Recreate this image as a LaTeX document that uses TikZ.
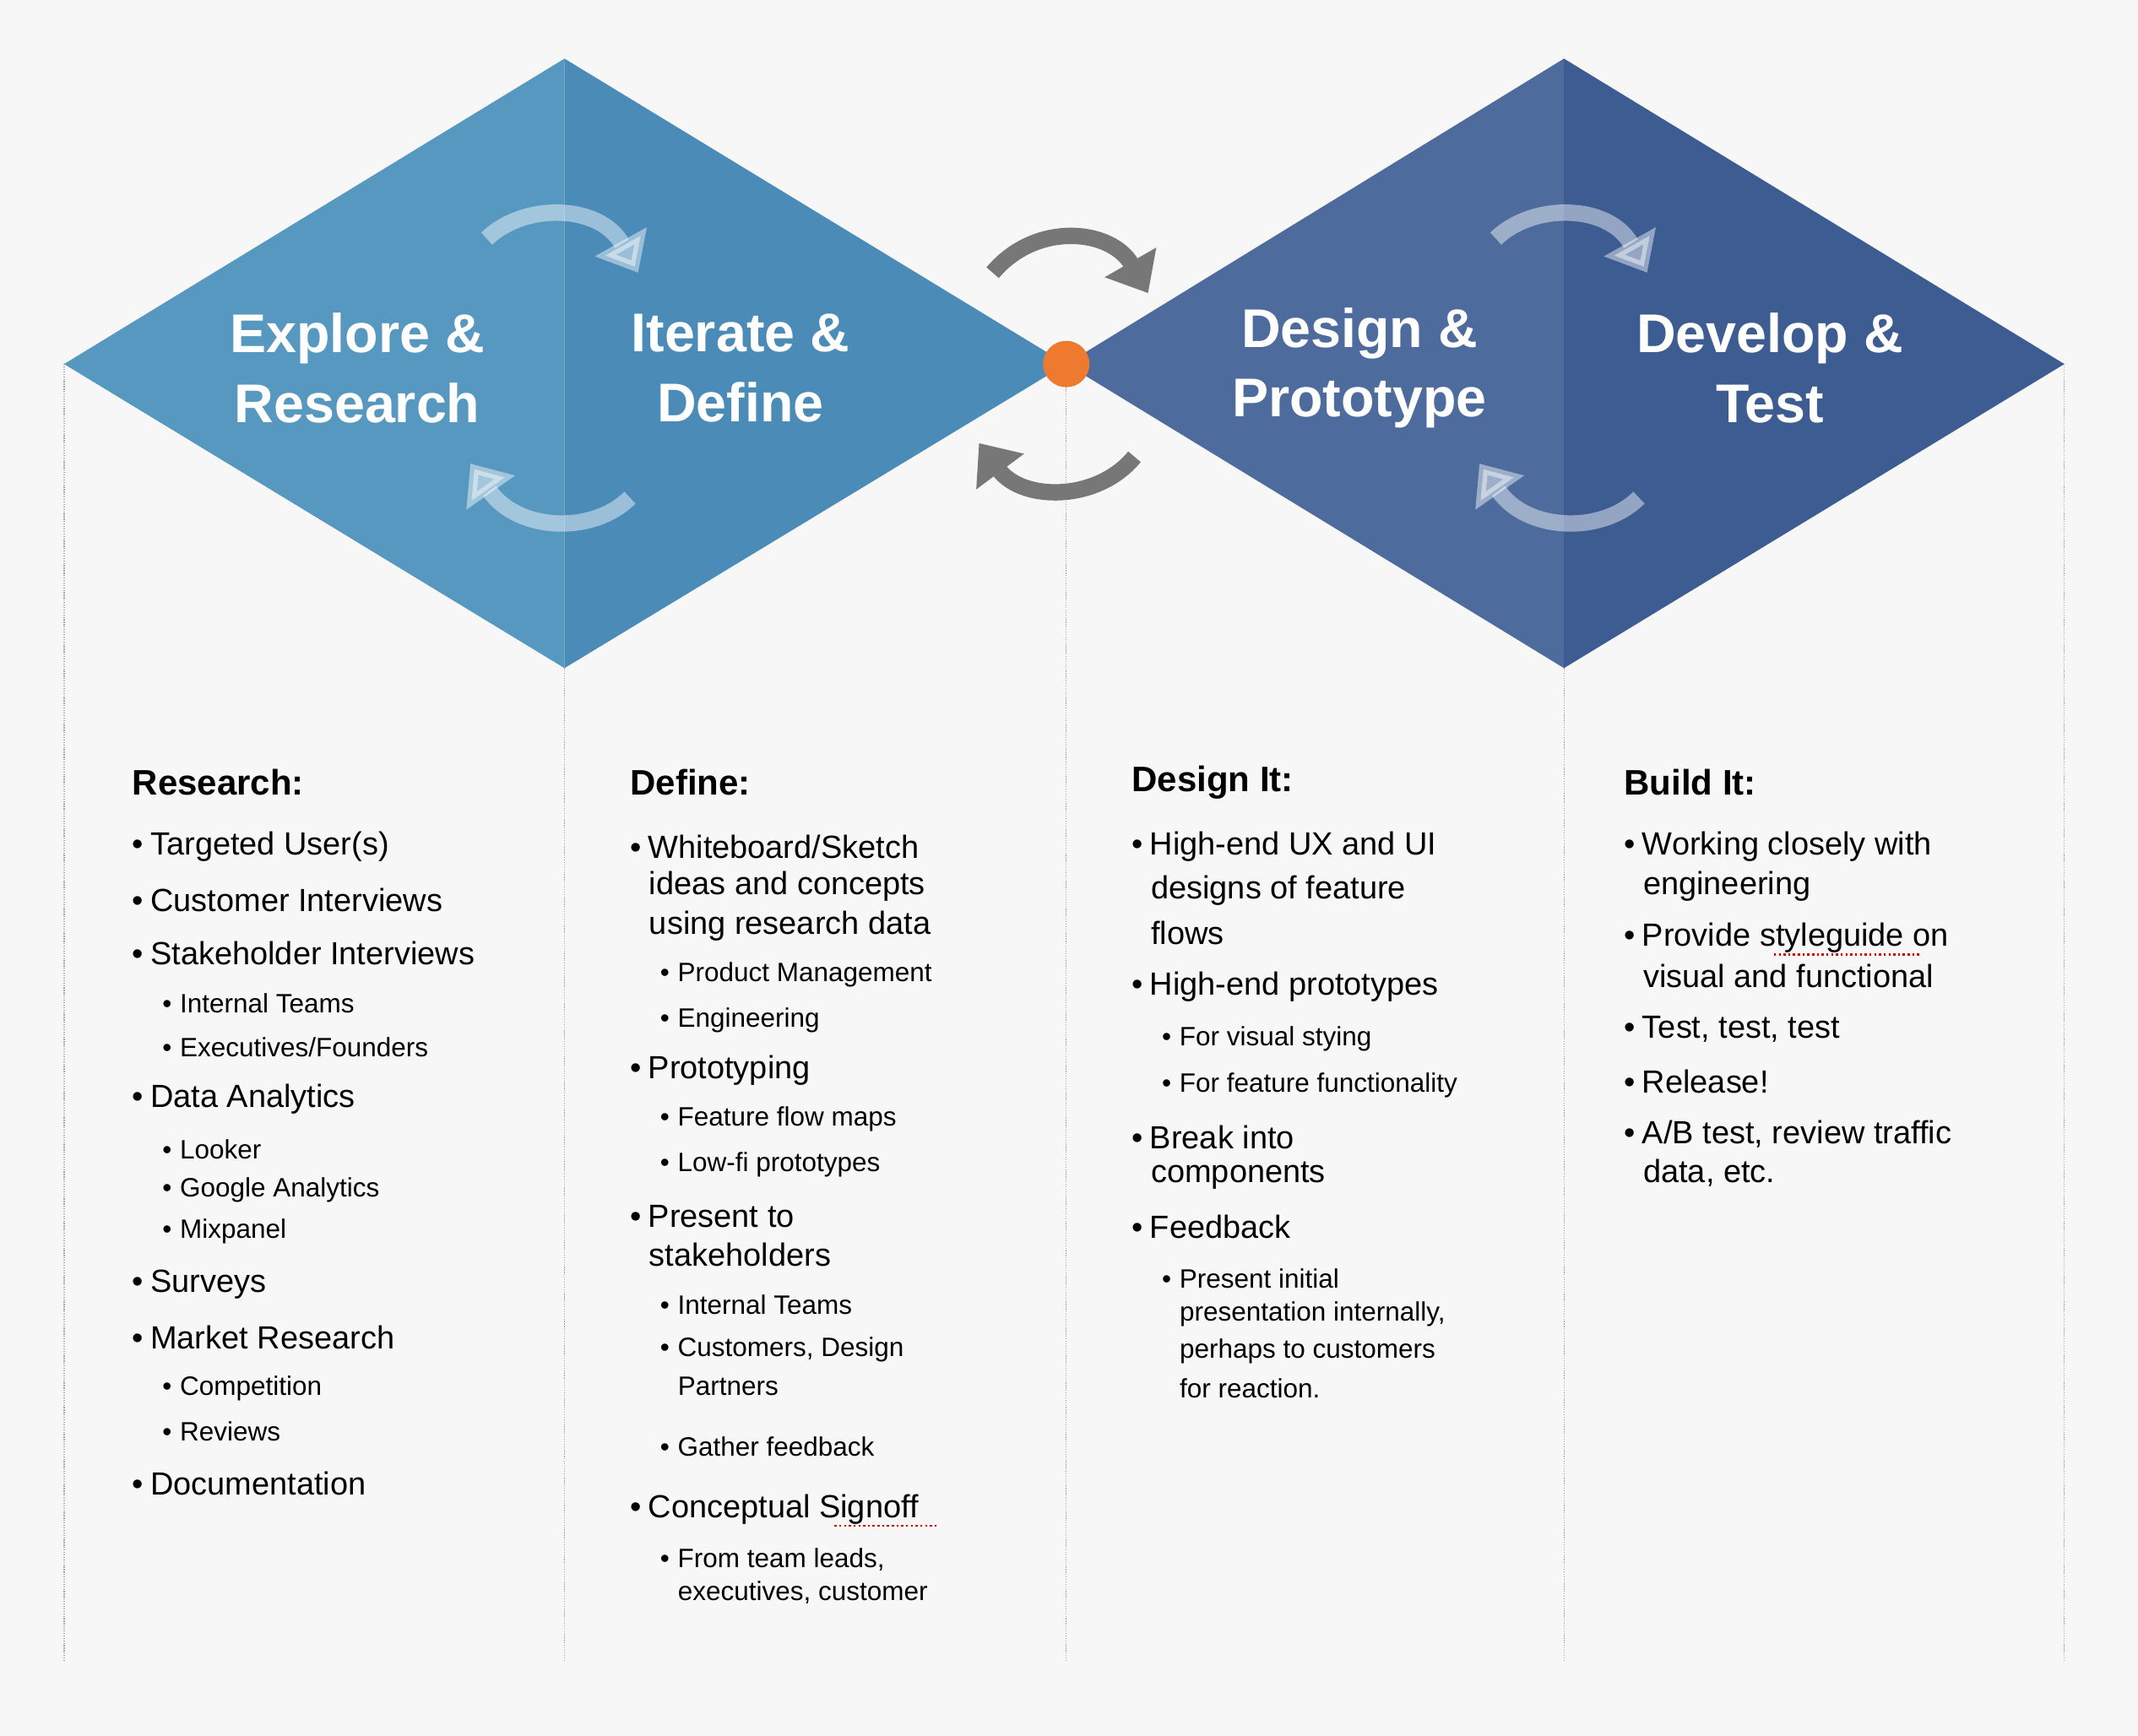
\documentclass[tikz,border=0pt]{standalone}
\usepackage{fontspec}
\setmainfont{Liberation Sans}
\usetikzlibrary{arrows.meta}
\definecolor{bg}{HTML}{F7F7F7}
\definecolor{bA}{HTML}{5798C0}
\definecolor{bB}{HTML}{4A8BB8}
\definecolor{bC}{HTML}{4D6C9D}
\definecolor{bD}{HTML}{3C5C92}
\definecolor{dot}{HTML}{EE7A30}
\definecolor{garr}{HTML}{777777}
\newcounter{nn}
\newcommand\hd[3]{\stepcounter{nn}\node[hdr] (n\thenn) at (#1,#2) {#3};}
\newcommand\bitem[3]{\stepcounter{nn}\node[itm] (n\thenn) at (#1,#2) {\textbullet\hspace{5pt}#3};}
\newcommand\cont[3]{\stepcounter{nn}\node[itm] (n\thenn) at (#1+14,#2) {#3};}
\newcommand\sitem[3]{\stepcounter{nn}\node[sub] (n\thenn) at (#1,#2) {\textbullet\hspace{6pt}#3};}
\newcommand\scont[3]{\stepcounter{nn}\node[sub] (n\thenn) at (#1+13,#2) {#3};}
\begin{document}
\begin{tikzpicture}[x=1pt,y=-1pt,
 hdr/.style={anchor=west,inner sep=0,font=\fontsize{26}{30}\selectfont\bfseries},
 itm/.style={anchor=west,inner sep=0,font=\fontsize{23.5}{28}\selectfont},
 sub/.style={anchor=west,inner sep=0,font=\fontsize{19.5}{24}\selectfont},
 ttl/.style={align=center,text=white,font=\fontsize{40}{51}\selectfont\bfseries},
 vline/.style={gray!70,densely dotted,line width=0.8pt},
 warr/.style={white,opacity=0.45,line width=12pt,-{Triangle[length=26pt,width=42pt]}},
 garrow/.style={garr,line width=12pt,-{Triangle[length=26pt,width=42pt]}},
 spell/.style={red!85!black,dotted,line width=1.5pt}]
\fill[bg] (0,0) rectangle (1568,1273);
\useasboundingbox (0,0) rectangle (1568,1273);
% dotted lines
\coordinate (l0) at (47,267); \coordinate (l0b) at (47,1218);
\coordinate (l1) at (414,490); \coordinate (l1b) at (414,1218);
\coordinate (l2) at (782,267); \coordinate (l2b) at (782,1218);
\coordinate (l3) at (1147,490); \coordinate (l3b) at (1147,1218);
\coordinate (l4) at (1514,267); \coordinate (l4b) at (1514,1218);
\draw[vline] (l0)--(l0b); \draw[vline] (l1)--(l1b); \draw[vline] (l2)--(l2b);
\draw[vline] (l3)--(l3b); \draw[vline] (l4)--(l4b);
% diamonds
\fill[bA] (47,267)--(414,43)--(414,490)--cycle;
\fill[bB] (414,43)--(782,267)--(414,490)--cycle;
\fill[bC] (782,267)--(1147,43)--(1147,490)--cycle;
\fill[bD] (1147,43)--(1514,267)--(1147,490)--cycle;
\node[circle,fill=dot,minimum size=34pt,inner sep=0] (dt) at (782,267) {};
% titles
\node[ttl] (t1) at (262,270) {Explore \&\\Research};
\node[ttl] (t2) at (543,270) {Iterate \&\\Define};
\node[ttl] (t3) at (997,270) {Design \&\\Prototype};
\node[ttl] (t4) at (1298,270) {Develop \&\\Test};
% arrows
\coordinate (a1) at (357,175); \coordinate (a2) at (468,200);
\coordinate (a3) at (462,365); \coordinate (a4) at (345,340);
\draw[warr] (a1) .. controls (385,148) and (440,150) .. (a2);
\draw[warr] (a3) .. controls (435,392) and (380,390) .. (a4);
\coordinate (b1) at (1097,175); \coordinate (b2) at (1208,200);
\coordinate (b3) at (1202,365); \coordinate (b4) at (1085,340);
\draw[warr] (b1) .. controls (1125,148) and (1180,150) .. (b2);
\draw[warr] (b3) .. controls (1175,392) and (1120,390) .. (b4);
\coordinate (g1) at (728,200); \coordinate (g2) at (842,215);
\coordinate (g3) at (832,335); \coordinate (g4) at (718,325);
\draw[garrow] (g1) .. controls (760,162) and (815,168) .. (g2);
\draw[garrow] (g3) .. controls (805,368) and (750,368) .. (g4);
% column 1
\hd{97}{574}{Research:}
\bitem{97}{621}{Targeted User(s)}
\bitem{97}{660}{Customer Interviews}
\bitem{97}{699}{Stakeholder Interviews}
\sitem{119}{736}{Internal Teams}
\sitem{119}{768}{Executives/Founders}
\bitem{97}{806}{Data Analytics}
\sitem{119}{843}{Looker}
\sitem{119}{873}{Google Analytics}
\sitem{119}{903}{Mixpanel}
\bitem{97}{942}{Surveys}
\bitem{97}{981}{Market Research}
\sitem{119}{1018}{Competition}
\sitem{119}{1050}{Reviews}
\bitem{97}{1088}{Documentation}
% column 2
\hd{462}{574}{Define:}
\bitem{462}{621}{Whiteboard/Sketch}
\cont{462}{650}{ideas and concepts}
\cont{462}{679}{using research data}
\sitem{484}{715}{Product Management}
\sitem{484}{748}{Engineering}
\bitem{462}{785}{Prototyping}
\sitem{484}{821}{Feature flow maps}
\sitem{484}{854}{Low-fi prototypes}
\bitem{462}{892}{Present to}
\cont{462}{920}{stakeholders}
\sitem{484}{957}{Internal Teams}
\sitem{484}{990}{Customers, Design}
\scont{484}{1017}{Partners}
\sitem{484}{1061}{Gather feedback}
\bitem{462}{1107}{Conceptual Signoff}
\coordinate (s1) at (612,1119); \coordinate (s2) at (688,1119);
\draw[spell] (s1)--(s2);
\sitem{484}{1144}{From team leads,}
\scont{484}{1168}{executives, customer}
% column 3
\hd{830}{574}{Design It:}
\bitem{830}{621}{High-end UX and UI}
\cont{830}{653}{designs of feature}
\cont{830}{684}{flows}
\bitem{830}{724}{High-end prototypes}
\sitem{852}{762}{For visual stying}
\sitem{852}{796}{For feature functionality}
\bitem{830}{834}{Break into}
\cont{830}{862}{components}
\bitem{830}{900}{Feedback}
\sitem{852}{938}{Present initial}
\scont{852}{964}{presentation internally,}
\scont{852}{991}{perhaps to customers}
\scont{852}{1018}{for reaction.}
% column 4
\hd{1191}{574}{Build It:}
\bitem{1191}{621}{Working closely with}
\cont{1191}{650}{engineering}
\bitem{1191}{688}{Provide styleguide on}
\coordinate (s3) at (1301,700); \coordinate (s4) at (1408,700);
\draw[spell] (s3)--(s4);
\cont{1191}{716}{visual and functional}
\bitem{1191}{755}{Test, test, test}
\bitem{1191}{793}{Release!}
\bitem{1191}{832}{A/B test, review traffic}
\cont{1191}{860}{data, etc.}
\end{tikzpicture}
\end{document}
